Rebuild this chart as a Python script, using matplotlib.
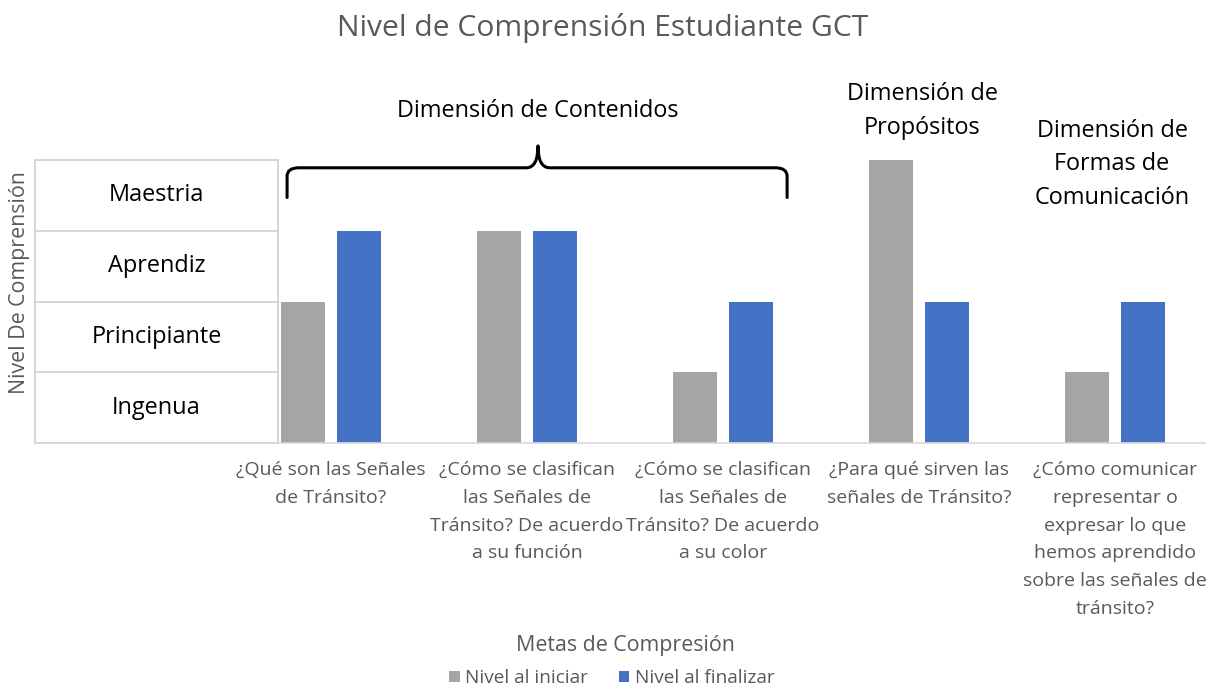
import matplotlib
matplotlib.use("Agg")
import matplotlib.pyplot as plt
from matplotlib.path import Path
from matplotlib.patches import PathPatch

plt.rcParams['font.family'] = ['Open Sans', 'DejaVu Sans']

categories = [
    "¿Qué son las Señales\nde Tránsito?",
    "¿Cómo se clasifican\nlas Señales de\nTránsito? De acuerdo\na su función",
    "¿Cómo se clasifican\nlas Señales de\nTránsito? De acuerdo\na su color",
    "¿Para qué sirven las\nseñales de Tránsito?",
    "¿Cómo comunicar\nrepresentar o\nexpresar lo que\nhemos aprendido\nsobre las señales de\ntránsito?",
]
nivel_iniciar = [2, 3, 1, 4, 1]
nivel_finalizar = [3, 3, 2, 2, 2]
levels = ["Ingenua", "Principiante", "Aprendiz", "Maestria"]
dimensions = ["Dimensión de Contenidos", "Dimensión de\nPropósitos",
              "Dimensión de\nFormas de\nComunicación"]

GRAY = "#A5A5A5"
BLUE = "#4472C4"
TXT = "#595959"
LINE = "#D0D0D0"

W, H = 1206, 688
fig = plt.figure(figsize=(W / 100, H / 100), dpi=100)
left, right, top, bottom = 35, 1206, 160, 443
ax = fig.add_axes([left / W, 1 - bottom / H, (right - left) / W, (bottom - top) / H])

xpos = list(range(1, len(categories) + 1))
bw = 0.225
off = 0.142
ax.bar([x - off for x in xpos], nivel_iniciar, width=bw, color=GRAY, label="Nivel al iniciar", zorder=2)
ax.bar([x + off for x in xpos], nivel_finalizar, width=bw, color=BLUE, label="Nivel al finalizar", zorder=2)

ax.set_xlim(-0.51, 5.464)
ax.set_ylim(0, 4)
for s in ["top", "right", "left"]:
    ax.spines[s].set_visible(False)
ax.spines["bottom"].set_color("#D9D9D9")
ax.spines["bottom"].set_linewidth(1.2)
ax.set_yticks([])
ax.set_xticks(xpos)
ax.set_xticklabels(categories, fontsize=14, color=TXT, linespacing=1.70)
ax.tick_params(axis="x", length=0, pad=13)

# level table on the left
tx0, tx1 = -0.51, 0.73
for k in range(5):
    ax.plot([tx0, tx1], [k, k], color=LINE, lw=1.2, zorder=1, clip_on=False)
ax.plot([tx0, tx0], [0, 4], color=LINE, lw=1.2, zorder=1, clip_on=False)
ax.plot([tx1, tx1], [0, 4], color=LINE, lw=1.2, zorder=1, clip_on=False)
for k, lab in enumerate(levels):
    ax.text((tx0 + tx1) / 2 + 0.0, k + 0.5, lab, ha="center", va="center", fontsize=16.9, color="black")

# bracket over contents dimension
bx0, bx1, bm = 0.776, 3.327, 2.056
yb, ye, yp = 3.89, 3.47, 4.2
r = 0.06
verts = [(bx0, ye), (bx0, yb - 0.12), (bx0, yb), (bx0 + r, yb), (bm - r, yb), (bm, yb), (bm, yp),
         (bm, yb), (bm + r, yb), (bx1 - r, yb), (bx1, yb), (bx1, yb - 0.12), (bx1, ye)]
codes = [Path.MOVETO, Path.LINETO, Path.CURVE3, Path.CURVE3, Path.LINETO, Path.CURVE3, Path.CURVE3,
         Path.CURVE3, Path.CURVE3, Path.LINETO, Path.CURVE3, Path.CURVE3, Path.LINETO]
ax.add_patch(PathPatch(Path(verts, codes), fill=False, lw=2.2, color="black", clip_on=False,
                       capstyle="round", joinstyle="round"))

ax.text(bm, 4.69, dimensions[0], ha="center", va="center", fontsize=16.9, color="black")
ax.text(4.018, 4.69, dimensions[1], ha="center", va="center", fontsize=16.9, color="black", linespacing=1.54)
ax.text(4.985, 3.94, dimensions[2], ha="center", va="center", fontsize=16.9, color="black", linespacing=1.54)

fig.text(0.5, 1 - 28 / H, "Nivel de Comprensión Estudiante GCT", ha="center", va="center",
         fontsize=21.6, color=TXT)
fig.text(20 / W, 1 - 283 / H, "Nivel De Comprensión", rotation=90, ha="center", va="center",
         fontsize=15.4, color=TXT)
fig.text(625 / W, 1 - 646 / H, "Metas de Compresión", ha="center", va="center", fontsize=15.4, color=TXT)

fig.legend(loc="center", bbox_to_anchor=(612 / W, 1 - 678 / H), ncol=2, frameon=False,
           fontsize=13.7, labelcolor=TXT, handlelength=0.55, handleheight=0.55,
           handletextpad=0.3, columnspacing=1.6)

fig.savefig("out.png", dpi=100)
